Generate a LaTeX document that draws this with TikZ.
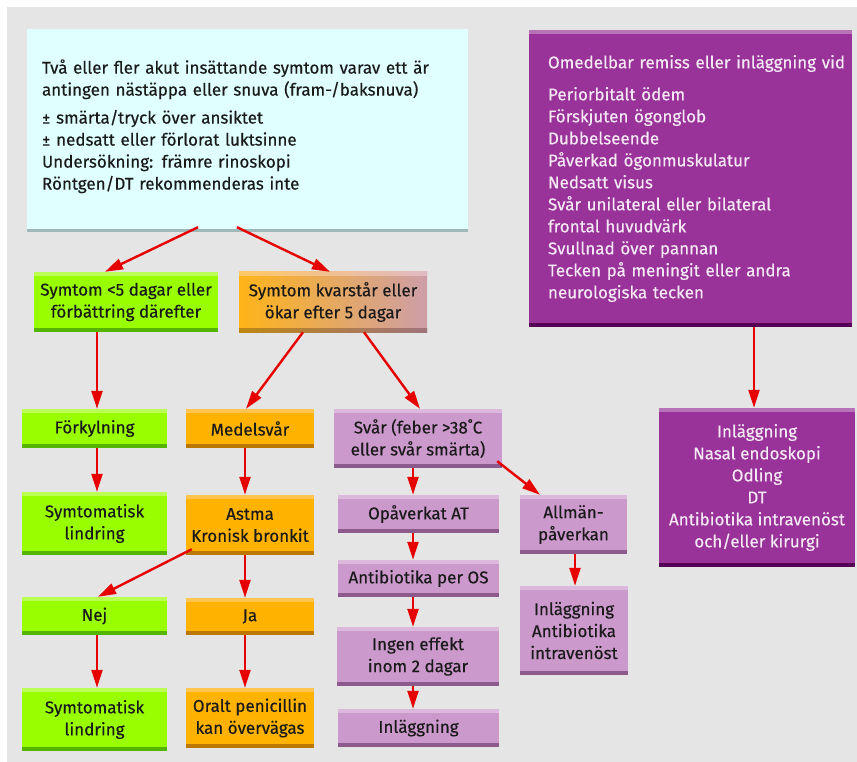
\documentclass[tikz,border=0pt]{standalone}
\usepackage{fontspec}
\setmainfont{Fira Sans}[FakeBold=0.35]
\usetikzlibrary{arrows.meta,calc}
\definecolor{bg}{HTML}{E5E5E5}
\definecolor{txt}{HTML}{1A1A1A}
\definecolor{ptxt}{HTML}{F4E8F4}
\definecolor{cfill}{HTML}{E0FFFF}
\definecolor{cbot}{HTML}{9FB9B9}
\definecolor{gfill}{HTML}{99FF00}
\definecolor{gtop}{HTML}{BBFF55}
\definecolor{gbot}{HTML}{55B400}
\definecolor{ofill}{HTML}{FFB300}
\definecolor{otop}{HTML}{FFC54F}
\definecolor{obot}{HTML}{BB7700}
\definecolor{lfill}{HTML}{CC99CC}
\definecolor{ltop}{HTML}{DDB8DD}
\definecolor{lbot}{HTML}{8C5A8C}
\definecolor{pfill}{HTML}{993399}
\definecolor{ptop}{HTML}{B872B8}
\definecolor{pbot}{HTML}{550055}
\definecolor{arr}{HTML}{E60000}
\definecolor{gradL}{RGB}{255,180,25}
\definecolor{gradR}{RGB}{205,158,168}
\definecolor{gradLt}{RGB}{255,200,100}
\definecolor{gradRt}{RGB}{225,185,195}
\definecolor{gradLb}{RGB}{190,135,20}
\definecolor{gradRb}{RGB}{160,115,125}
\tikzset{
  base/.style={rectangle, inner sep=0pt, align=center, text=txt,
    font=\fontsize{17}{22}\selectfont},
  bands/.style n args={2}{path picture={
    \fill[#1] (path picture bounding box.north west) rectangle ([yshift=-4pt]path picture bounding box.north east);
    \fill[#2] (path picture bounding box.south west) rectangle ([yshift=4pt]path picture bounding box.south east);}},
  sz/.style 2 args={minimum width=#1pt, minimum height=#2pt},
  gbox/.style={base, fill=gfill, bands={gtop}{gbot}},
  obox/.style={base, fill=ofill, bands={otop}{obot}},
  lbox/.style={base, fill=lfill, bands={ltop}{lbot}},
  pbox/.style={base, fill=pfill, text=ptxt, bands={ptop}{pbot}},
  cbox/.style={base, fill=cfill, path picture={
    \fill[cbot] (path picture bounding box.south west) rectangle ([yshift=3pt]path picture bounding box.south east);}},
  gradbox/.style={base, left color=gradL, right color=gradR, path picture={
    \shade[left color=gradLt, right color=gradRt] (path picture bounding box.north west) rectangle ([yshift=-4pt]path picture bounding box.north east);
    \shade[left color=gradLb, right color=gradRb] (path picture bounding box.south west) rectangle ([yshift=4pt]path picture bounding box.south east);}},
  conn/.style={draw=arr, line width=2.4pt, -{Triangle[length=18pt,width=11pt]}},
}
\begin{document}
\begin{tikzpicture}[x=1pt,y=-1pt]
\useasboundingbox (0,0) rectangle (857,762);
\fill[white] (0,0) rectangle (857,762);
\fill[bg] (7,7) rectangle (857,762);

\node[cbox, sz={441}{203}, text width=411pt, align=left] (top) at (247.5,130.5)
  {Två eller fler akut insättande symtom varav ett är\\
   antingen nästäppa eller snuva (fram-/baksnuva)\\[6pt]
   ± smärta/tryck över ansiktet\\
   ± nedsatt eller förlorat luktsinne\\
   Undersökning: främre rinoskopi\\
   Röntgen/DT rekommenderas inte\\[-10pt]\mbox{}};

\node[pbox, sz={323}{297}, text width=285pt, align=left] (p1) at (690.5,178.5)
  {\makebox[285pt][l]{Omedelbar remiss eller inläggning vid}\\[10pt]
   Periorbitalt ödem\\
   Förskjuten ögonglob\\
   Dubbelseende\\
   Påverkad ögonmuskulatur\\
   Nedsatt visus\\
   Svår unilateral eller bilateral\\
   frontal huvudvärk\\
   Svullnad över pannan\\
   Tecken på meningit eller andra\\
   neurologiska tecken};

\node[pbox, sz={196}{159}] (p2) at (757,487.5)
  {Inläggning\\ Nasal endoskopi\\ Odling\\ DT\\ Antibiotika intravenöst\\ och/eller kirurgi};

\node[gbox, sz={184}{60}] (g1) at (126,302) {Symtom <5 dagar eller\\ förbättring därefter};
\node[gradbox, sz={188}{60}] (o1) at (333,302) {Symtom kvarstår eller\\ ökar efter 5 dagar};

\node[gbox, sz={145}{39}] (g2) at (94.5,428.5) {Förkylning};
\node[obox, sz={128}{39}] (o2) at (250,428.5) {Medelsvår};
\node[lbox, sz={168}{59}] (l1) at (418,438.5) {Svår (feber >38˚C\\ eller svår smärta)};

\node[gbox, sz={145}{63}] (g3) at (94.5,523.5) {Symtomatisk\\ lindring};
\node[obox, sz={128}{60}] (o3) at (250,525) {Astma\\ Kronisk bronkit};
\node[lbox, sz={161}{38}] (l2) at (418.5,514) {Opåverkat AT};
\node[lbox, sz={107}{59}] (l3) at (573.5,524.5) {Allmän-\\ påverkan};

\node[gbox, sz={145}{38}] (g4) at (94.5,616) {Nej};
\node[obox, sz={128}{37}] (o4) at (250,616.5) {Ja};
\node[lbox, sz={161}{37}] (l4) at (418.5,578.5) {Antibiotika per OS};
\node[lbox, sz={108}{89}] (l5) at (574,630.5) {Inläggning\\ Antibiotika\\ intravenöst};

\node[gbox, sz={145}{63}] (g5) at (94.5,719.5) {Symtomatisk\\ lindring};
\node[obox, sz={128}{60}] (o5) at (250,718) {Oralt penicillin\\ kan övervägas};
\node[lbox, sz={162}{59}] (l6) at (418,656.5) {Ingen effekt\\ inom 2 dagar};
\node[lbox, sz={161}{38}] (l7) at (418.5,728) {Inläggning};

\draw[conn] ($(top.south)+(-49.5,-5)$) -- ($(g1.north)+(-21,0)$);
\draw[conn] ($(top.south)+(-10.5,-5)$) -- ($(o1.north)+(-3,0)$);
\draw[conn] ($(g1.south)+(-29,0)$) -- ($(g2.north)+(2.5,0)$);
\draw[conn] ($(o1.south)+(-30,0)$) -- ($(o2.north)+(-4,0)$);
\draw[conn] ($(o1.south)+(31,0)$) -- ($(l1.north)+(2,0)$);
\draw[conn] ($(p1.south)+(63.5,0)$) -- ($(p2.north)+(-3,0)$);
\draw[conn] ($(g2.south)+(2.5,0)$) -- ($(g3.north)+(2.5,0)$);
\draw[conn] ($(o2.south)+(-5,0)$) -- ($(o3.north)+(-5,0)$);
\draw[conn] ($(l1.south)+(-5,0)$) -- ($(l2.north)+(-5.5,0)$);
\draw[conn] ($(l1.south east)+(-5,-7)$) -- ($(l3.north)+(-33.5,0)$);
\draw[conn] ($(o3.south west)+(6,-6)$) -- ($(g4.north)+(3.5,0)$);
\draw[conn] ($(o3.south)+(-5,0)$) -- ($(o4.north)+(-5,0)$);
\draw[conn] ($(l2.south)+(-5.5,0)$) -- ($(l4.north)+(-5.5,0)$);
\draw[conn] ($(l3.south)+(1.5,0)$) -- ($(l5.north)+(1,0)$);
\draw[conn] ($(g4.south)+(2.5,0)$) -- ($(g5.north)+(2.5,0)$);
\draw[conn] ($(o4.south)+(-5,0)$) -- ($(o5.north)+(-5,0)$);
\draw[conn] ($(l4.south)+(-5.5,0)$) -- ($(l6.north)+(-5,0)$);
\draw[conn] ($(l6.south)+(-5,0)$) -- ($(l7.north)+(-5.5,0)$);
\end{tikzpicture}
\end{document}
